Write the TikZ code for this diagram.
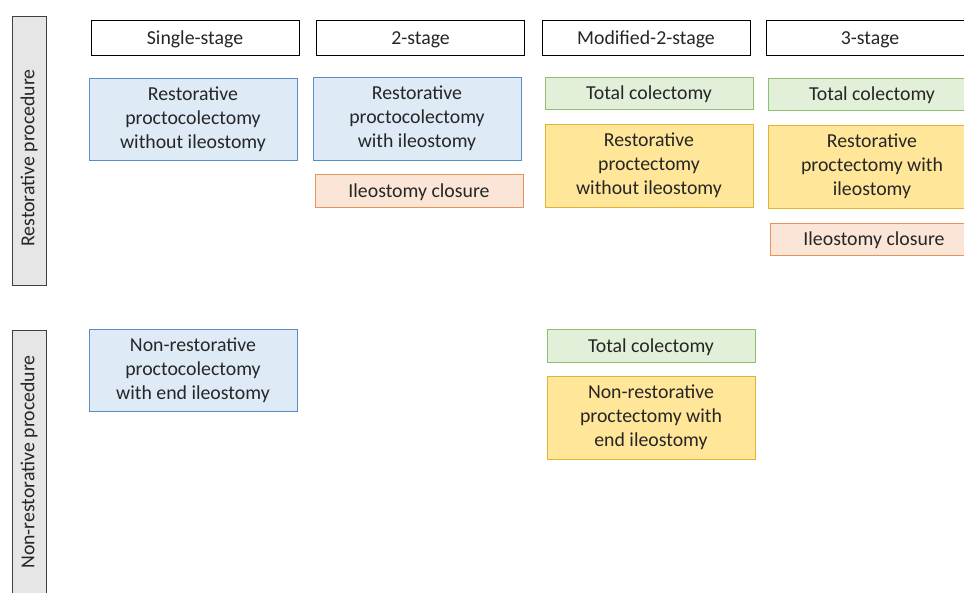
\documentclass[tikz,border=0pt]{standalone}
\usepackage{fontspec}
\setmainfont{Carlito}
\usepackage{tikz}

\definecolor{bluefill}{HTML}{DEEBF7}
\definecolor{blueline}{HTML}{5B8CC4}
\definecolor{greenfill}{HTML}{E2F0D9}
\definecolor{greenline}{HTML}{8DBF6E}
\definecolor{yellowfill}{HTML}{FFE699}
\definecolor{yellowline}{HTML}{DDB437}
\definecolor{orangefill}{HTML}{FBE5D6}
\definecolor{orangeline}{HTML}{E8935A}
\definecolor{grayfill}{HTML}{E7E6E6}
\definecolor{grayline}{HTML}{404040}
\definecolor{textcol}{HTML}{262626}

\begin{document}
\begin{tikzpicture}[x=1pt, y=-1pt,
  every node/.style={font=\fontsize{19.8}{24}\selectfont, text=textcol, align=center, inner sep=0pt},
  oneline/.style={text height=18pt, text depth=4.5pt},
  stagebox/.style={oneline, draw=black, line width=0.8pt, fill=white, minimum width=208, minimum height=35},
  procbox/.style={line width=0.8pt, minimum width=208, minimum height=82},
  smallbox/.style={oneline, line width=0.8pt, minimum width=208, minimum height=33},
  bluebox/.style={procbox, draw=blueline, fill=bluefill},
  yellowbox/.style={procbox, draw=yellowline, fill=yellowfill},
  greenbox/.style={smallbox, draw=greenline, fill=greenfill},
  orangebox/.style={smallbox, draw=orangeline, fill=orangefill},
  sidebar/.style={draw=grayline, line width=0.8pt, fill=grayfill, rotate=90, minimum height=34}]

  % Draw the frame
  \clip (0,0) rectangle (964,592);

  % Side labels
  \node[sidebar, minimum width=269] (restor) at (29,150.5) {Restorative procedure\hspace*{15pt}};
  \node[sidebar, minimum width=264] (nonrestor) at (29,462) {Non-restorative procedure};

  % Stage headers
  \node[stagebox] (single) at (195,37.5) {Single-stage};
  \node[stagebox] (twostage) at (420.5,37.5) {2-stage};
  \node[stagebox] (modtwo) at (646,37.5) {Modified-2-stage};
  \node[stagebox] (threestage) at (870,37.5) {3-stage};

  % Restorative row
  \node[bluebox] (rpcnoil) at (193,119) {Restorative\\proctocolectomy\\without ileostomy};

  \node[bluebox, minimum height=83] (rpcil) at (417,118.5) {Restorative\\proctocolectomy\\with ileostomy};
  \node[orangebox] (closetwo) at (419,190.5) {Ileostomy closure};

  \node[greenbox, minimum height=32] (tcmod) at (649,93) {Total colectomy};
  \node[yellowbox, minimum height=83] (rpnoil) at (649,165.5) {Restorative\\proctectomy\\without ileostomy};

  \node[greenbox, minimum height=32] (tcthree) at (872,94) {Total colectomy};
  \node[yellowbox, minimum height=83] (rpil) at (872,166.5) {Restorative\\proctectomy with\\ileostomy};
  \node[orangebox, minimum height=32] (closethree) at (874,239) {Ileostomy closure};

  % Non-restorative row
  \node[bluebox] (nrpc) at (193,370) {Non-restorative\\proctocolectomy\\with end ileostomy};

  \node[greenbox] (tcnon) at (651,345.5) {Total colectomy};
  \node[yellowbox, minimum height=83] (nrp) at (651,417.5) {Non-restorative\\proctectomy with\\end ileostomy};

\end{tikzpicture}
\end{document}
